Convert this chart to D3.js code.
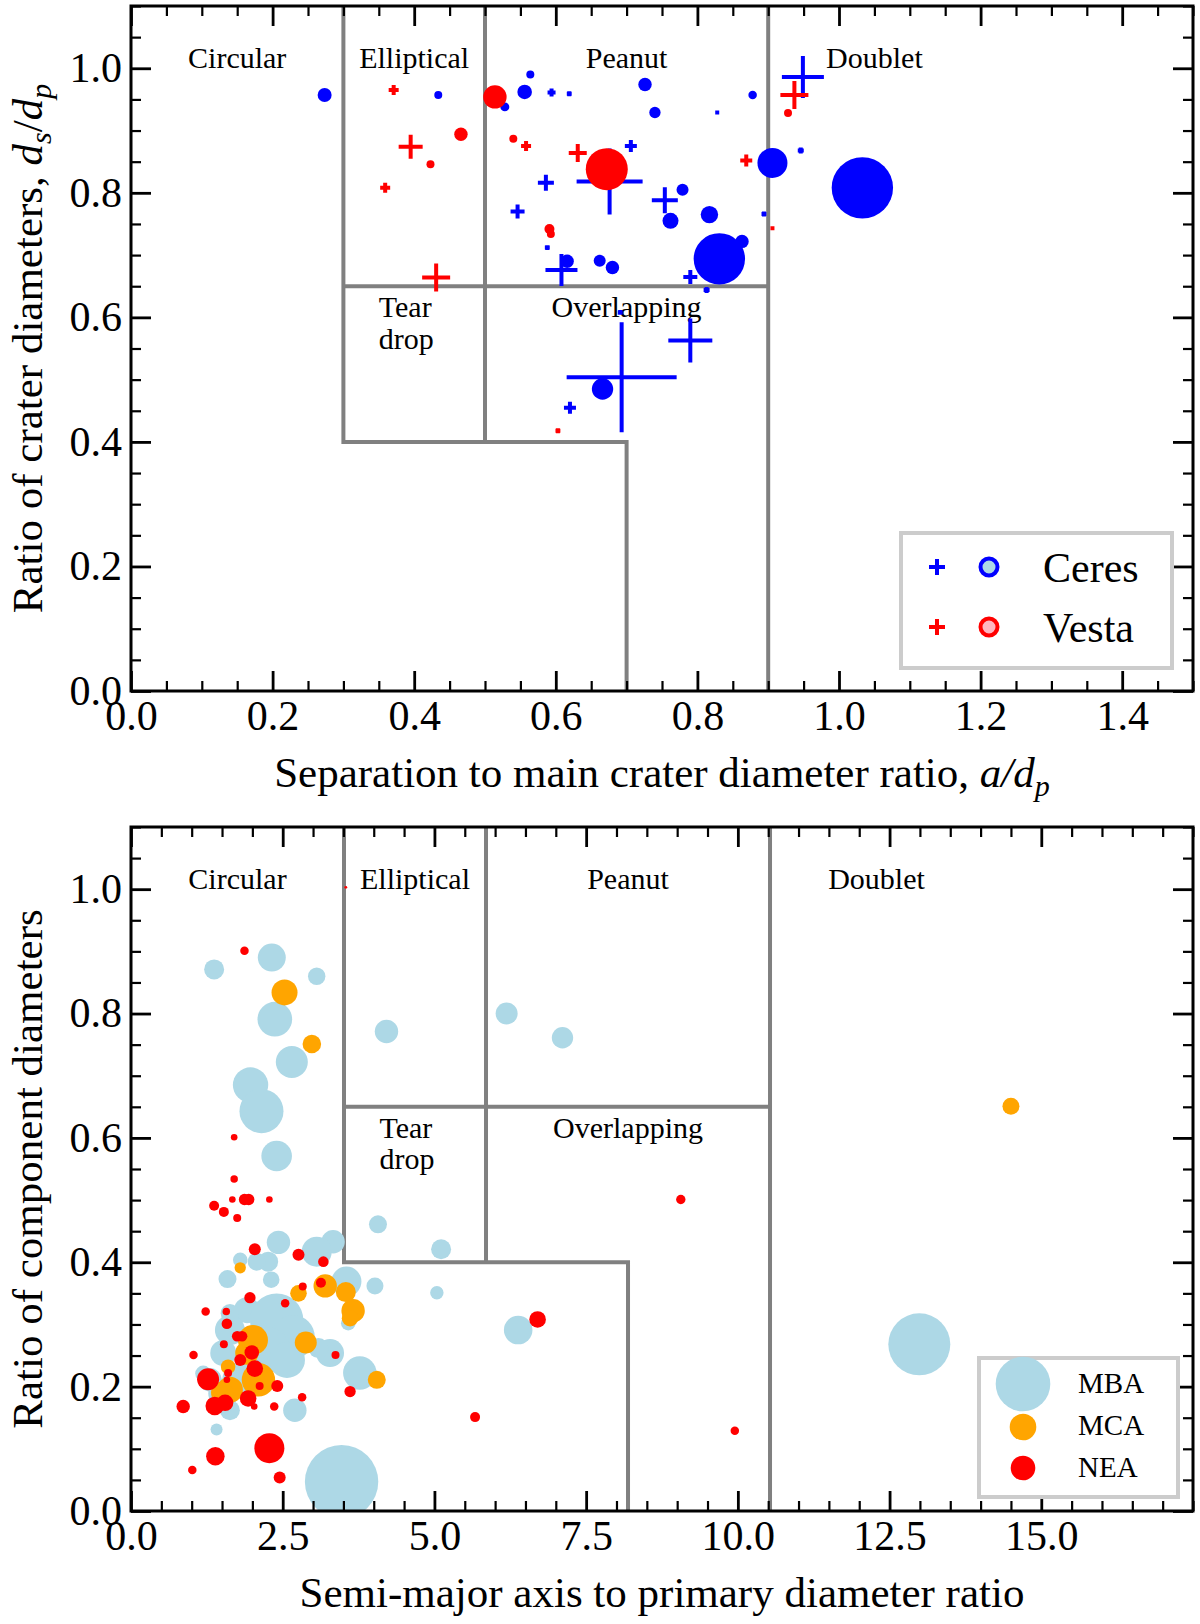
<!DOCTYPE html>
<html>
<head>
<meta charset="utf-8">
<script src="https://cdn.jsdelivr.net/npm/d3@7"></script>
<style>
body { margin: 0; background: #fff; }
text { font-family: "Liberation Serif", "DejaVu Serif", serif; fill: #000; }
</style>
</head>
<body>
<div id="chart-area"></div>
<script>

// ---- data: [x, y, size] ----
// top panel, crater pairs
const ceresPlus = [
	[0.594, 0.961, 16], [0.586, 0.816, 64], [0.546, 0.770, 49], [0.706, 0.875, 36],
	[0.676, 0.818, 1089], [0.754, 0.788, 169], [0.608, 0.676, 256], [0.790, 0.665, 49],
	[0.949, 0.986, 441], [0.693, 0.504, 3025], [0.790, 0.563, 484], [0.620, 0.455, 36],
	[0.619, 0.959, 6], [0.828, 0.929, 4], [0.588, 0.712, 6], [0.894, 0.766, 6],
	[0.946, 0.868, 9], [0.691, 0.608, 6], [0.813, 0.644, 9]
];
const ceresCircle = [
	[0.2735, 0.957, 49], [0.434, 0.957, 16], [0.528, 0.938, 20], [0.556, 0.962, 53],
	[0.564, 0.990, 16], [0.726, 0.974, 45], [0.740, 0.929, 32], [0.878, 0.957, 18],
	[0.779, 0.805, 36], [0.762, 0.755, 64], [0.817, 0.765, 76], [0.616, 0.690, 45],
	[0.662, 0.691, 36], [0.680, 0.680, 45], [0.831, 0.694, 660], [0.863, 0.722, 45],
	[0.906, 0.848, 225], [1.033, 0.808, 942], [0.666, 0.485, 114]
];
const vestaPlus = [
	[0.371, 0.965, 25], [0.395, 0.874, 144], [0.359, 0.808, 25], [0.431, 0.664, 196],
	[0.558, 0.875, 25], [0.631, 0.864, 81], [0.869, 0.852, 36], [0.937, 0.957, 196],
	[0.603, 0.418, 6], [0.906, 0.743, 4]
];
const vestaCircle = [
	[0.466, 0.894, 45], [0.423, 0.846, 16], [0.514, 0.954, 137], [0.540, 0.887, 16],
	[0.672, 0.838, 441], [0.591, 0.742, 25], [0.593, 0.734, 16], [0.928, 0.928, 16]
];

// bottom panel, binary asteroids
const mba = [
	[4.21, 0.771, 137], [6.19, 0.800, 121], [7.11, 0.761, 114], [4.07, 0.461, 81],
	[5.11, 0.421, 100], [4.02, 0.362, 72], [5.04, 0.351, 45], [6.38, 0.291, 204],
	[12.99, 0.268, 961], [2.32, 0.890, 196], [1.37, 0.871, 100], [3.06, 0.860, 76],
	[2.37, 0.791, 300], [2.65, 0.722, 256], [1.97, 0.685, 313], [2.15, 0.643, 484],
	[2.40, 0.571, 234], [2.43, 0.432, 137], [3.33, 0.433, 137], [3.06, 0.417, 225],
	[2.26, 0.401, 100], [2.07, 0.401, 81], [1.80, 0.404, 53], [1.59, 0.373, 81],
	[2.31, 0.372, 69], [3.55, 0.369, 225], [3.58, 0.302, 53], [1.91, 0.323, 169],
	[2.40, 0.307, 713], [2.67, 0.280, 471], [2.24, 0.259, 529], [1.63, 0.291, 225],
	[1.52, 0.254, 169], [2.57, 0.243, 324], [1.80, 0.211, 324], [1.30, 0.211, 137],
	[1.19, 0.221, 64], [1.52, 0.189, 225], [1.63, 0.162, 100], [3.28, 0.254, 196],
	[3.09, 0.262, 100], [3.77, 0.222, 279], [2.70, 0.162, 137], [1.41, 0.131, 36],
	[3.47, 0.047, 1347], [1.63, 0.318, 86]
];
const mca = [
	[14.50, 0.651, 72], [4.05, 0.211, 81], [2.53, 0.834, 169], [2.98, 0.751, 86],
	[1.80, 0.391, 32], [3.20, 0.362, 137], [2.76, 0.350, 69], [3.54, 0.352, 100],
	[3.66, 0.322, 137], [3.61, 0.310, 69], [2.88, 0.271, 121], [2.01, 0.275, 225],
	[1.91, 0.254, 137], [2.10, 0.211, 279], [1.60, 0.232, 53], [1.63, 0.195, 169],
	[1.50, 0.190, 121]
];
const nea = [
	[3.54, 1.003, 2], [1.87, 0.901, 18], [1.70, 0.601, 11], [1.70, 0.534, 14],
	[1.67, 0.501, 11], [1.87, 0.501, 32], [1.94, 0.501, 32], [2.28, 0.501, 11],
	[1.37, 0.491, 25], [1.53, 0.481, 25], [1.75, 0.471, 16], [9.06, 0.501, 22],
	[9.95, 0.129, 18], [6.70, 0.308, 69], [5.67, 0.151, 25], [2.04, 0.421, 36],
	[2.76, 0.412, 36], [3.17, 0.401, 28], [3.13, 0.367, 25], [2.83, 0.361, 16],
	[1.96, 0.343, 32], [2.54, 0.334, 18], [1.23, 0.321, 18], [1.57, 0.321, 14],
	[1.58, 0.301, 28], [1.75, 0.281, 28], [1.83, 0.281, 28], [1.53, 0.268, 16],
	[1.03, 0.251, 18], [1.99, 0.255, 53], [1.80, 0.243, 36], [2.04, 0.229, 69],
	[1.60, 0.222, 16], [1.58, 0.211, 11], [1.27, 0.212, 121], [2.12, 0.201, 16],
	[2.41, 0.201, 36], [1.93, 0.181, 69], [1.38, 0.169, 86], [1.55, 0.174, 69],
	[0.86, 0.168, 45], [2.03, 0.168, 11], [2.36, 0.168, 18], [2.82, 0.183, 18],
	[3.37, 0.251, 16], [3.61, 0.192, 32], [2.28, 0.101, 225], [1.39, 0.088, 86],
	[1.01, 0.066, 18], [2.45, 0.054, 36]
];

// region boundaries (top units), bottom panel = top * 11.7
const boundX = [0.3, 0.5, 0.7, 0.9];
const boundY = [0.4, 0.65];
const botFactor = 11.7;
const regionNames = ["Circular", "Elliptical", "Peanut", "Doublet", "Overlapping"];
const regionX = [0.15, 0.40, 0.70, 1.05, 0.70];
const regionY = [1.0, 1.0, 1.0, 1.0, 0.60];
const tearLines = ["Tear", "drop"];

// ticks
const topXTicks = [0.0, 0.2, 0.4, 0.6, 0.8, 1.0, 1.2, 1.4];
const botXTicks = [0.0, 2.5, 5.0, 7.5, 10.0, 12.5, 15.0];
const yTicks = [0.0, 0.2, 0.4, 0.6, 0.8, 1.0];

const topLegend = ["Ceres", "Vesta"];
const botLegend = ["MBA", "MCA", "NEA"];

// ---- layout ----
const width = 1200, height = 1624;
const left = 131, right = 1193;

var svg = d3.select("#chart-area").append("svg")
	.attr("width", width)
	.attr("height", height);

var topX = d3.scaleLinear().domain([0, 1.5]).range([left, right]);
var topY = d3.scaleLinear().domain([0, 1.1]).range([691, 6]);
var botX = d3.scaleLinear().domain([0, 17.5]).range([left, right]);
var botY = d3.scaleLinear().domain([0, 1.1]).range([1511, 827]);

// marker size -> pixel radius / half-arm
var rSize = d3.scaleSqrt().domain([0, 100]).range([0, 10]);

function plusPath(cx, cy, l) {
	return `M${cx - l},${cy}H${cx + l}M${cx},${cy - l}V${cy + l}`;
}

function drawRegions(g, x, y, k) {
	var grey = "#808080";
	var lines = [
		[[boundX[0], 1.1], [boundX[0], boundY[0]], [boundX[2], boundY[0]], [boundX[2], 0]],
		[[boundX[1], 1.1], [boundX[1], boundY[0]]],
		[[boundX[3], 1.1], [boundX[3], 0]],
		[[boundX[0], boundY[1]], [boundX[3], boundY[1]]]
	];
	var line = d3.line().x(d => x(d[0] * k)).y(d => y(d[1]));
	g.selectAll(".region")
		.data(lines)
		.enter().append("path")
		.attr("class", "region")
		.attr("d", line)
		.attr("fill", "none")
		.attr("stroke", grey)
		.attr("stroke-width", 4)
		.attr("stroke-linejoin", "miter");

	g.selectAll(".rlabel")
		.data(regionNames)
		.enter().append("text")
		.attr("class", "rlabel")
		.attr("x", (d, i) => x(regionX[i] * k))
		.attr("y", (d, i) => y(regionY[i]))
		.attr("text-anchor", "middle")
		.style("font-size", "30px")
		.text(d => d);

	g.selectAll(".tear")
		.data(tearLines)
		.enter().append("text")
		.attr("class", "tear")
		.attr("x", x(0.35 * k))
		.attr("y", (d, i) => y(0.60 - i * 0.05))
		.style("font-size", "30px")
		.text(d => d);
}

function drawFrame(g, x, y, xTicks, xMinorStep) {
	var y0 = y.range()[0], y1 = y.range()[1];
	var x0 = x.range()[0], x1 = x.range()[1];
	var xMinor = d3.range(0, x.domain()[1] + 1e-9, xMinorStep).filter(v => !xTicks.some(t => Math.abs(t - v) < 1e-9));
	var yMinor = d3.range(0, 1.1 + 1e-9, 0.05).filter(v => !yTicks.some(t => Math.abs(t - v) < 1e-9));
	var fmt = d3.format(".1f");

	function style(sel, w) {
		sel.select(".domain").remove();
		sel.selectAll("line").attr("stroke", "#000").attr("stroke-width", w);
		sel.selectAll("text").style("font-size", "42px").attr("font-family", null);
	}

	// major
	g.append("g").attr("transform", `translate(0,${y0})`)
		.call(d3.axisBottom(x).tickValues(xTicks).tickSize(-20).tickPadding(9).tickFormat(fmt))
		.call(s => style(s, 2.8));
	g.append("g").attr("transform", `translate(0,${y1})`)
		.call(d3.axisTop(x).tickValues(xTicks).tickSize(-20).tickFormat(""))
		.call(s => style(s, 2.8));
	g.append("g").attr("transform", `translate(${x0},0)`)
		.call(d3.axisLeft(y).tickValues(yTicks).tickSize(-20).tickPadding(9).tickFormat(fmt))
		.call(s => style(s, 2.8));
	g.append("g").attr("transform", `translate(${x1},0)`)
		.call(d3.axisRight(y).tickValues(yTicks).tickSize(-20).tickFormat(""))
		.call(s => style(s, 2.8));

	// minor
	g.append("g").attr("transform", `translate(0,${y0})`)
		.call(d3.axisBottom(x).tickValues(xMinor).tickSize(-10).tickFormat(""))
		.call(s => style(s, 2.2));
	g.append("g").attr("transform", `translate(0,${y1})`)
		.call(d3.axisTop(x).tickValues(xMinor).tickSize(-10).tickFormat(""))
		.call(s => style(s, 2.2));
	g.append("g").attr("transform", `translate(${x0},0)`)
		.call(d3.axisLeft(y).tickValues(yMinor).tickSize(-10).tickFormat(""))
		.call(s => style(s, 2.2));
	g.append("g").attr("transform", `translate(${x1},0)`)
		.call(d3.axisRight(y).tickValues(yMinor).tickSize(-10).tickFormat(""))
		.call(s => style(s, 2.2));

	g.append("rect")
		.attr("x", x0).attr("y", y1)
		.attr("width", x1 - x0).attr("height", y0 - y1)
		.attr("fill", "none")
		.attr("stroke", "#000")
		.attr("stroke-width", 3);
}

// label with math parts: [text, italic, sub]
function mathText(sel, parts) {
	var shifted = false;
	parts.forEach(p => {
		var t = sel.append("tspan").text(p[0]);
		if (p[1]) t.style("font-style", "italic");
		if (p[2]) {
			t.attr("dy", shifted ? 0 : 9).style("font-size", "30px");
			shifted = true;
		} else if (shifted) {
			t.attr("dy", -9);
			shifted = false;
		}
	});
}

// ================= top panel =================
var gTop = svg.append("g");
svg.append("clipPath").attr("id", "clipTop").append("rect")
	.attr("x", left).attr("y", 6).attr("width", right - left).attr("height", 685);

drawRegions(gTop, topX, topY, 1);

var mTop = gTop.append("g").attr("clip-path", "url(#clipTop)");

mTop.selectAll(".cplus")
	.data(ceresPlus)
	.enter().append("path")
	.attr("class", "cplus")
	.attr("d", d => plusPath(topX(d[0]), topY(d[1]), rSize(d[2])))
	.attr("stroke", "#0000ff")
	.attr("stroke-width", 4)
	.attr("fill", "none");

mTop.selectAll(".ccirc")
	.data(ceresCircle)
	.enter().append("circle")
	.attr("class", "ccirc")
	.attr("cx", d => topX(d[0]))
	.attr("cy", d => topY(d[1]))
	.attr("r", d => rSize(d[2]))
	.attr("fill", "#0000ff");

mTop.selectAll(".vplus")
	.data(vestaPlus)
	.enter().append("path")
	.attr("class", "vplus")
	.attr("d", d => plusPath(topX(d[0]), topY(d[1]), rSize(d[2])))
	.attr("stroke", "#ff0000")
	.attr("stroke-width", 4)
	.attr("fill", "none");

mTop.selectAll(".vcirc")
	.data(vestaCircle)
	.enter().append("circle")
	.attr("class", "vcirc")
	.attr("cx", d => topX(d[0]))
	.attr("cy", d => topY(d[1]))
	.attr("r", d => rSize(d[2]))
	.attr("fill", "#ff0000");

drawFrame(gTop, topX, topY, topXTicks, 0.05);

// axis titles
svg.append("text")
	.attr("x", (left + right) / 2)
	.attr("y", 787)
	.attr("text-anchor", "middle")
	.style("font-size", "43px")
	.call(s => mathText(s, [["Separation to main crater diameter ratio, "], ["a/d", true], ["p", true, true]]));

svg.append("text")
	.attr("transform", `translate(42,${(6 + 691) / 2}) rotate(-90)`)
	.attr("text-anchor", "middle")
	.style("font-size", "43px")
	.call(s => mathText(s, [["Ratio of crater diameters, "], ["d", true], ["s", true, true], ["/"], ["d", true], ["p", true, true]]));

// top legend
var lgTop = svg.append("g");
lgTop.append("rect")
	.attr("x", 901).attr("y", 533).attr("width", 271).attr("height", 135)
	.attr("fill", "#fff").attr("stroke", "#cccccc").attr("stroke-width", 4);
var topLegCol = [["#0000ff", "#add8e6"], ["#ff0000", "#ffb6c1"]];
topLegend.forEach((name, i) => {
	var yy = 567 + i * 60;
	lgTop.append("path")
		.attr("d", plusPath(937, yy, 8))
		.attr("stroke", topLegCol[i][0]).attr("stroke-width", 4);
	lgTop.append("circle")
		.attr("cx", 989).attr("cy", yy).attr("r", 8.5)
		.attr("fill", topLegCol[i][1])
		.attr("stroke", topLegCol[i][0]).attr("stroke-width", 4);
	lgTop.append("text")
		.attr("x", 1043).attr("y", yy + 15)
		.style("font-size", "42px")
		.text(name);
});

// ================= bottom panel =================
var gBot = svg.append("g");
svg.append("clipPath").attr("id", "clipBot").append("rect")
	.attr("x", left).attr("y", 827).attr("width", right - left).attr("height", 684);

drawRegions(gBot, botX, botY, botFactor);

var mBot = gBot.append("g").attr("clip-path", "url(#clipBot)");
var botSeries = [[mba, "#add8e6"], [mca, "#ffa500"], [nea, "#ff0000"]];
botSeries.forEach((s, i) => {
	mBot.selectAll(".b" + i)
		.data(s[0])
		.enter().append("circle")
		.attr("class", "b" + i)
		.attr("cx", d => botX(d[0]))
		.attr("cy", d => botY(d[1]))
		.attr("r", d => rSize(d[2]))
		.attr("fill", s[1]);
});

drawFrame(gBot, botX, botY, botXTicks, 0.5);

svg.append("text")
	.attr("x", (left + right) / 2)
	.attr("y", 1607)
	.attr("text-anchor", "middle")
	.style("font-size", "43px")
	.text("Semi-major axis to primary diameter ratio");

svg.append("text")
	.attr("transform", `translate(42,${(827 + 1511) / 2}) rotate(-90)`)
	.attr("text-anchor", "middle")
	.style("font-size", "43px")
	.text("Ratio of component diameters");

// bottom legend
var lgBot = svg.append("g");
lgBot.append("rect")
	.attr("x", 979).attr("y", 1358).attr("width", 199).attr("height", 139)
	.attr("fill", "#fff").attr("stroke", "#cccccc").attr("stroke-width", 4);
var legR = [27.3, 13.3, 12.3];
var legY = [1384, 1427, 1468];
botLegend.forEach((name, i) => {
	lgBot.append("circle")
		.attr("cx", 1023).attr("cy", legY[i]).attr("r", legR[i])
		.attr("fill", botSeries[i][1]);
	lgBot.append("text")
		.attr("x", 1078).attr("y", [1393, 1435, 1477][i])
		.style("font-size", "29px")
		.text(name);
});

</script>
</body>
</html>
